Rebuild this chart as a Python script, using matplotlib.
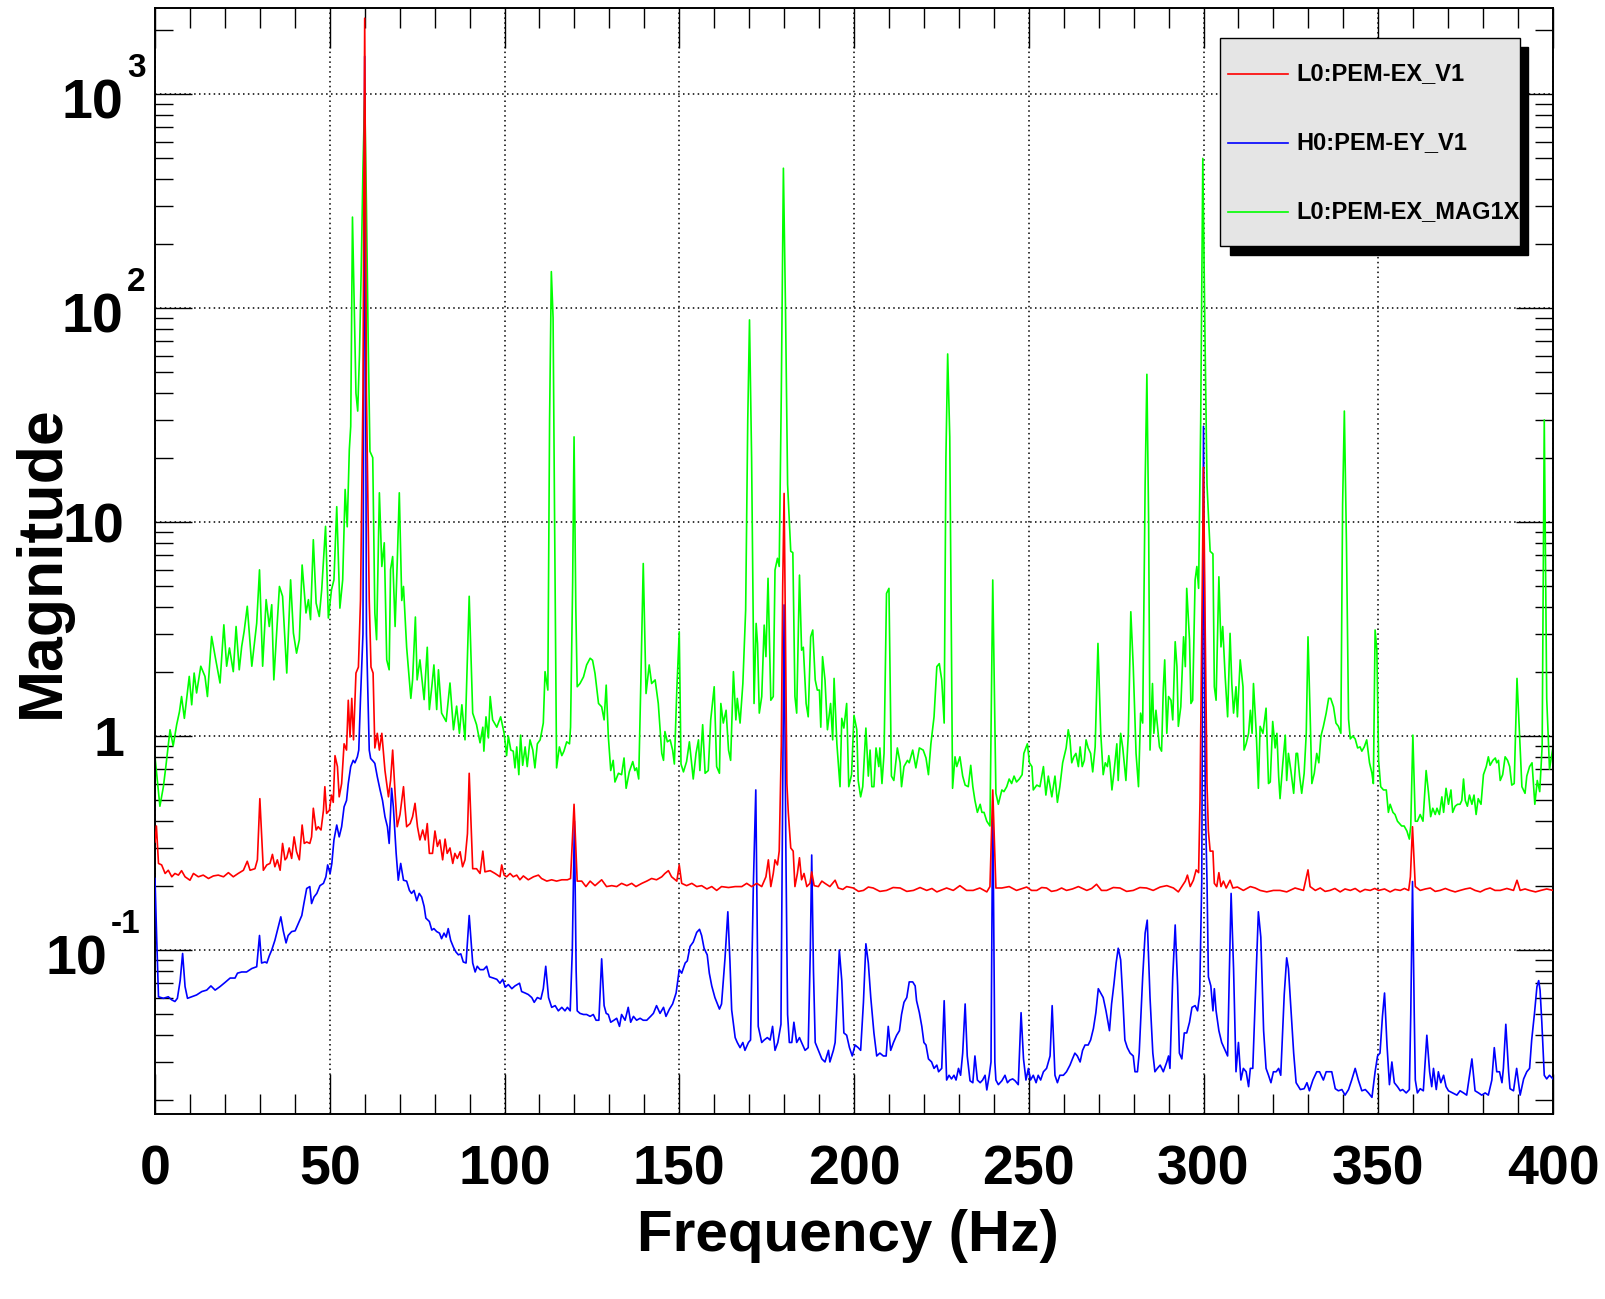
import matplotlib
matplotlib.use("Agg")
import matplotlib.pyplot as plt
from matplotlib.ticker import MultipleLocator, FixedLocator, LogLocator, NullFormatter
from matplotlib.transforms import offset_copy
from matplotlib.patches import Rectangle
from matplotlib.lines import Line2D

plt.rcParams['font.family'] = ['Liberation Sans', 'DejaVu Sans']
plt.rcParams['font.weight'] = 'bold'

# spectra, (frequency [Hz], magnitude)
ex_v1 = [
    (0.0, 0.32), (0.4, 0.38), (1.0, 0.254), (1.9, 0.25), (2.9, 0.228), (3.8, 0.236), (4.8, 0.22),
    (5.7, 0.228), (6.7, 0.224), (7.6, 0.235), (8.6, 0.22), (10.0, 0.212), (11.0, 0.228), (12.4, 0.22),
    (13.8, 0.224), (15.3, 0.216), (16.7, 0.222), (18.1, 0.224), (19.6, 0.22), (21.0, 0.23), (22.4, 0.22),
    (23.8, 0.228), (25.3, 0.236), (26.4, 0.26), (27.2, 0.236), (28.6, 0.24), (29.3, 0.264), (30.0, 0.51),
    (31.0, 0.236), (32.0, 0.25), (32.9, 0.254), (33.6, 0.28), (34.3, 0.245), (35.0, 0.264), (35.8, 0.236),
    (36.5, 0.315), (37.2, 0.264), (37.7, 0.27), (38.4, 0.30), (39.1, 0.268), (39.8, 0.338), (40.5, 0.288),
    (41.3, 0.264), (42.1, 0.384), (42.7, 0.315), (43.4, 0.32), (44.3, 0.315), (44.8, 0.338), (45.3, 0.46),
    (46.1, 0.364), (46.7, 0.377), (47.5, 0.364), (48.2, 0.45), (48.6, 0.58), (49.1, 0.435), (49.9, 0.45),
    (50.5, 0.53), (51.0, 0.49), (51.5, 0.81), (52.2, 0.72), (52.7, 0.52), (53.4, 0.60), (54.1, 0.92),
    (54.8, 0.86), (55.3, 1.47), (55.8, 0.99), (56.3, 1.5), (56.8, 0.96), (57.5, 1.97), (58.2, 2.1),
    (58.8, 4.3), (59.5, 40), (60.0, 2260), (60.5, 40), (61.3, 4.3), (61.8, 2.1), (62.4, 1.97),
    (62.9, 0.88), (63.6, 1.03), (64.2, 0.86), (64.9, 1.03), (65.8, 0.69), (66.8, 0.52), (67.4, 0.62),
    (68.0, 0.86), (68.7, 0.54), (69.3, 0.377), (70.1, 0.43), (71.1, 0.58), (71.5, 0.47), (72.0, 0.377),
    (73.0, 0.39), (73.7, 0.42), (74.4, 0.485), (75.1, 0.377), (75.8, 0.327), (76.6, 0.364), (77.3, 0.327),
    (77.9, 0.39), (78.5, 0.283), (79.4, 0.283), (80.1, 0.36), (80.8, 0.305), (81.5, 0.327), (82.3, 0.264),
    (83.0, 0.33), (83.6, 0.283), (84.4, 0.30), (85.2, 0.254), (85.8, 0.283), (86.5, 0.268), (87.3, 0.288),
    (88.0, 0.245), (88.7, 0.264), (89.4, 0.35), (89.9, 0.67), (90.9, 0.24), (92.0, 0.24), (93.0, 0.228),
    (93.8, 0.29), (94.4, 0.232), (95.9, 0.235), (97.3, 0.228), (98.7, 0.22), (99.2, 0.25), (99.9, 0.224),
    (100.6, 0.22), (101.6, 0.228), (102.5, 0.22), (103.5, 0.224), (104.4, 0.213), (105.4, 0.222),
    (106.8, 0.213), (108.3, 0.22), (109.7, 0.224), (110.6, 0.216), (112.1, 0.21), (113.5, 0.213),
    (114.9, 0.21), (116.4, 0.213), (118.0, 0.213), (118.9, 0.216), (119.9, 0.48), (120.8, 0.21),
    (122.1, 0.21), (123.3, 0.198), (124.5, 0.21), (125.9, 0.20), (127.8, 0.213), (129.2, 0.198),
    (130.7, 0.20), (132.1, 0.198), (133.5, 0.205), (135.0, 0.20), (136.4, 0.205), (137.6, 0.198),
    (139.3, 0.205), (140.7, 0.21), (142.1, 0.216), (143.5, 0.213), (145.0, 0.22), (145.9, 0.228),
    (146.9, 0.235), (147.8, 0.22), (149.3, 0.21), (150.0, 0.25), (150.7, 0.205), (152.1, 0.20),
    (153.6, 0.205), (155.0, 0.198), (156.4, 0.20), (157.9, 0.193), (159.3, 0.198), (160.7, 0.19),
    (162.1, 0.198), (164.1, 0.196), (166.0, 0.198), (167.9, 0.198), (169.3, 0.205), (170.7, 0.198),
    (172.2, 0.205), (173.6, 0.198), (174.8, 0.22), (175.5, 0.264), (176.2, 0.198), (176.9, 0.228),
    (177.4, 0.264), (178.1, 0.25), (178.6, 0.29), (179.2, 0.9), (179.6, 5.0), (180.0, 13.6), (180.4, 3.0),
    (180.8, 0.6), (181.2, 0.44), (181.9, 0.30), (182.6, 0.29), (183.1, 0.198), (183.8, 0.228), (184.4, 0.27),
    (185.0, 0.213), (185.7, 0.228), (186.5, 0.198), (187.4, 0.205), (187.9, 0.232), (188.6, 0.20),
    (189.8, 0.198), (190.8, 0.21), (191.7, 0.205), (193.1, 0.198), (194.6, 0.212), (195.5, 0.195),
    (196.8, 0.192), (197.9, 0.198), (199.8, 0.195), (201.3, 0.188), (202.7, 0.19), (204.1, 0.197),
    (205.5, 0.195), (207.4, 0.188), (209.3, 0.19), (211.2, 0.196), (213.2, 0.195), (215.1, 0.188),
    (217.0, 0.19), (218.9, 0.196), (220.8, 0.19), (222.3, 0.194), (223.7, 0.187), (226.5, 0.195),
    (228.4, 0.19), (230.3, 0.20), (232.2, 0.19), (234.1, 0.19), (236.0, 0.195), (238.0, 0.187),
    (238.9, 0.198), (239.7, 0.56), (240.6, 0.195), (242.3, 0.195), (244.4, 0.198), (246.5, 0.19),
    (249.4, 0.197), (250.8, 0.19), (252.3, 0.19), (253.7, 0.196), (255.1, 0.195), (256.5, 0.188),
    (258.0, 0.19), (259.4, 0.195), (260.8, 0.19), (262.5, 0.193), (264.2, 0.198), (266.6, 0.19),
    (268.0, 0.194), (269.4, 0.203), (270.8, 0.19), (272.3, 0.19), (274.2, 0.196), (276.1, 0.195),
    (278.0, 0.188), (279.9, 0.19), (281.8, 0.196), (283.7, 0.195), (285.6, 0.19), (287.6, 0.197),
    (289.5, 0.20), (291.4, 0.195), (292.8, 0.187), (293.8, 0.198), (294.8, 0.21), (295.4, 0.224),
    (296.2, 0.198), (297.1, 0.212), (297.9, 0.237), (298.6, 0.23), (299.0, 0.5), (299.5, 3.0),
    (300.0, 18), (300.5, 3.0), (301.0, 0.6), (301.4, 0.36), (301.9, 0.29), (302.7, 0.29), (303.1, 0.205),
    (303.8, 0.198), (304.4, 0.23), (305.0, 0.198), (305.7, 0.21), (306.5, 0.195), (307.6, 0.212),
    (308.4, 0.195), (309.7, 0.197), (311.4, 0.19), (313.4, 0.198), (314.8, 0.195), (316.2, 0.19),
    (318.1, 0.187), (320.0, 0.19), (321.9, 0.19), (323.8, 0.187), (326.2, 0.195), (328.6, 0.19),
    (329.9, 0.237), (330.5, 0.198), (332.0, 0.19), (333.4, 0.195), (334.8, 0.188), (336.2, 0.19),
    (337.6, 0.194), (339.1, 0.187), (340.5, 0.193), (342.0, 0.19), (343.4, 0.194), (344.8, 0.187),
    (346.2, 0.192), (347.7, 0.19), (349.0, 0.194), (350.1, 0.19), (351.8, 0.193), (353.4, 0.187),
    (354.8, 0.192), (356.3, 0.19), (357.5, 0.194), (358.7, 0.19), (359.2, 0.22), (359.8, 0.377),
    (360.6, 0.198), (362.0, 0.19), (363.5, 0.193), (364.9, 0.195), (366.3, 0.188), (367.7, 0.19),
    (369.2, 0.194), (370.6, 0.19), (372.0, 0.187), (373.4, 0.19), (374.9, 0.193), (376.3, 0.195),
    (377.7, 0.19), (379.2, 0.187), (380.6, 0.192), (382.0, 0.195), (383.4, 0.19), (384.9, 0.19),
    (386.8, 0.194), (388.7, 0.19), (389.7, 0.212), (390.6, 0.19), (392.0, 0.193), (393.3, 0.19),
    (395.0, 0.187), (396.5, 0.19), (398.2, 0.193), (400.0, 0.19),
]

ey_v1 = [
    (0.0, 0.216), (0.5, 0.111), (1.0, 0.0605), (2.4, 0.0595), (3.8, 0.0605), (4.8, 0.0585), (5.7, 0.0575),
    (6.4, 0.0595), (7.2, 0.072), (7.9, 0.0964), (8.6, 0.0675), (9.3, 0.0595), (10.5, 0.0605), (11.9, 0.0617),
    (13.4, 0.064), (14.8, 0.065), (16.0, 0.068), (17.2, 0.065), (18.6, 0.0675), (20.0, 0.0705), (21.5, 0.074),
    (22.9, 0.074), (23.6, 0.078), (24.8, 0.079), (26.2, 0.079), (27.7, 0.082), (29.1, 0.0836), (29.9, 0.117),
    (30.5, 0.087), (31.5, 0.088), (32.0, 0.087), (32.7, 0.094), (33.4, 0.1), (34.3, 0.111), (35.0, 0.123),
    (36.0, 0.143), (36.7, 0.123), (37.5, 0.108), (38.1, 0.117), (39.1, 0.122), (40.1, 0.123), (41.0, 0.133),
    (42.0, 0.145), (42.6, 0.165), (43.4, 0.194), (44.3, 0.198), (44.8, 0.165), (45.5, 0.177), (46.3, 0.184),
    (47.2, 0.20), (48.2, 0.205), (48.9, 0.22), (49.4, 0.25), (50.1, 0.228), (50.6, 0.254), (51.2, 0.327),
    (52.0, 0.384), (52.7, 0.338), (53.4, 0.377), (54.1, 0.467), (54.8, 0.50), (55.3, 0.60), (56.0, 0.72),
    (56.7, 0.77), (57.2, 0.75), (57.9, 0.80), (58.3, 0.86), (58.8, 1.5), (59.5, 3.0), (60.0, 1500),
    (60.5, 3.0), (61.3, 0.86), (61.7, 0.786), (62.5, 0.76), (62.9, 0.745), (63.6, 0.646), (64.4, 0.56),
    (65.1, 0.50), (65.8, 0.42), (66.5, 0.377), (67.0, 0.315), (67.7, 0.57), (68.2, 0.467), (69.0, 0.283),
    (69.6, 0.212), (70.3, 0.254), (71.1, 0.212), (72.0, 0.21), (72.8, 0.19), (73.4, 0.184), (74.1, 0.19),
    (74.9, 0.17), (75.6, 0.184), (76.3, 0.177), (77.0, 0.16), (77.5, 0.141), (78.5, 0.136), (79.2, 0.124),
    (79.8, 0.126), (80.6, 0.122), (81.4, 0.12), (82.0, 0.113), (82.7, 0.12), (83.3, 0.115), (83.9, 0.126),
    (84.6, 0.111), (85.4, 0.103), (86.1, 0.098), (86.8, 0.095), (87.5, 0.096), (88.2, 0.088), (89.0, 0.087),
    (89.9, 0.145), (90.9, 0.087), (91.6, 0.079), (92.2, 0.084), (93.0, 0.081), (94.0, 0.081), (94.9, 0.084),
    (95.7, 0.075), (96.8, 0.074), (97.8, 0.073), (98.7, 0.07), (99.5, 0.073), (100.2, 0.067), (101.1, 0.069),
    (102.1, 0.066), (103.0, 0.068), (104.3, 0.07), (104.9, 0.064), (105.9, 0.063), (106.8, 0.062),
    (107.8, 0.06), (108.5, 0.057), (109.4, 0.06), (110.4, 0.059), (111.1, 0.066), (111.8, 0.084),
    (112.6, 0.06), (113.5, 0.054), (114.5, 0.055), (115.4, 0.052), (116.4, 0.054), (117.3, 0.052),
    (118.0, 0.054), (118.8, 0.052), (119.4, 0.1), (120.0, 0.40), (120.5, 0.08), (120.8, 0.052),
    (121.6, 0.0506), (122.6, 0.050), (123.5, 0.050), (124.5, 0.049), (125.4, 0.050), (126.2, 0.047),
    (127.0, 0.047), (127.8, 0.091), (128.5, 0.055), (129.1, 0.0506), (129.7, 0.05), (130.4, 0.046),
    (131.3, 0.047), (132.1, 0.048), (132.9, 0.044), (133.5, 0.05), (134.5, 0.047), (135.4, 0.054),
    (136.1, 0.046), (136.9, 0.049), (137.8, 0.047), (138.8, 0.048), (139.7, 0.047), (140.7, 0.047),
    (141.8, 0.049), (142.6, 0.0506), (143.5, 0.055), (144.5, 0.0506), (145.5, 0.054), (146.2, 0.049),
    (147.2, 0.053), (148.1, 0.056), (149.1, 0.063), (150.0, 0.081), (150.7, 0.078), (151.7, 0.087),
    (152.3, 0.089), (153.1, 0.104), (154.0, 0.109), (155.0, 0.121), (155.8, 0.125), (156.4, 0.117),
    (157.1, 0.102), (158.0, 0.095), (158.6, 0.078), (159.3, 0.068), (160.2, 0.06), (161.5, 0.053),
    (162.1, 0.056), (163.1, 0.092), (163.9, 0.151), (164.5, 0.089), (165.0, 0.0525), (166.0, 0.039),
    (166.6, 0.037), (167.4, 0.035), (168.2, 0.037), (168.8, 0.034), (169.8, 0.037), (170.4, 0.038),
    (171.2, 0.2), (171.9, 0.56), (172.6, 0.044), (173.6, 0.037), (174.3, 0.038), (175.2, 0.039),
    (176.0, 0.038), (176.7, 0.044), (177.4, 0.034), (178.2, 0.037), (179.1, 0.045), (179.6, 0.6),
    (180.0, 4.1), (180.5, 0.3), (181.0, 0.05), (181.5, 0.037), (182.2, 0.037), (182.8, 0.046),
    (183.6, 0.037), (184.4, 0.039), (185.0, 0.037), (186.0, 0.034), (186.9, 0.035), (187.5, 0.1),
    (187.9, 0.278), (188.4, 0.08), (188.9, 0.037), (189.8, 0.034), (190.8, 0.031), (191.7, 0.030),
    (192.7, 0.034), (193.1, 0.030), (194.1, 0.034), (194.6, 0.037), (195.0, 0.05), (195.8, 0.1),
    (196.5, 0.072), (197.1, 0.041), (197.9, 0.040), (198.7, 0.035), (199.5, 0.032), (200.3, 0.036),
    (201.2, 0.035), (201.9, 0.034), (202.7, 0.057), (203.4, 0.107), (204.1, 0.087), (204.8, 0.06),
    (205.7, 0.041), (206.5, 0.032), (207.4, 0.033), (208.4, 0.032), (209.2, 0.032), (209.8, 0.044),
    (210.5, 0.034), (211.3, 0.037), (212.2, 0.040), (213.0, 0.042), (213.6, 0.050), (214.3, 0.057),
    (215.1, 0.060), (215.8, 0.071), (216.8, 0.071), (217.5, 0.068), (217.9, 0.058), (218.7, 0.051),
    (219.4, 0.044), (220.0, 0.037), (220.6, 0.036), (221.3, 0.031), (222.2, 0.030), (222.9, 0.028),
    (223.7, 0.029), (224.2, 0.027), (225.1, 0.028), (225.8, 0.058), (226.5, 0.0247), (227.2, 0.026),
    (227.9, 0.025), (228.6, 0.026), (229.2, 0.0247), (229.9, 0.028), (230.5, 0.026), (231.1, 0.033),
    (231.8, 0.056), (232.4, 0.032), (233.2, 0.0245), (234.0, 0.024), (234.6, 0.032), (235.3, 0.0247),
    (236.1, 0.024), (236.8, 0.0247), (237.5, 0.026), (238.0, 0.0222), (238.7, 0.026), (239.2, 0.03),
    (239.7, 0.5), (240.3, 0.03), (240.6, 0.0247), (241.3, 0.0235), (242.3, 0.0245), (243.2, 0.026),
    (243.9, 0.024), (244.6, 0.0247), (245.4, 0.025), (246.1, 0.0245), (247.0, 0.0235), (247.8, 0.051),
    (248.5, 0.031), (249.2, 0.0247), (249.9, 0.028), (250.5, 0.0247), (251.3, 0.026), (252.1, 0.024),
    (252.7, 0.026), (253.4, 0.0247), (254.2, 0.027), (255.1, 0.028), (256.1, 0.032), (256.7, 0.055),
    (257.5, 0.026), (258.2, 0.024), (258.9, 0.026), (259.9, 0.026), (260.8, 0.027), (261.8, 0.029),
    (262.5, 0.031), (263.2, 0.033), (263.9, 0.032), (264.7, 0.030), (265.4, 0.034), (266.1, 0.036),
    (267.0, 0.036), (267.7, 0.038), (268.5, 0.043), (269.2, 0.051), (269.9, 0.066), (270.6, 0.063),
    (271.3, 0.06), (272.1, 0.052), (273.1, 0.042), (273.7, 0.056), (274.4, 0.07), (275.0, 0.087),
    (275.6, 0.102), (276.3, 0.09), (276.9, 0.06), (277.5, 0.038), (278.2, 0.035), (279.0, 0.033),
    (279.9, 0.032), (280.4, 0.027), (281.1, 0.027), (281.6, 0.033), (282.6, 0.075), (283.3, 0.12),
    (283.9, 0.138), (284.7, 0.06), (285.5, 0.033), (286.1, 0.027), (286.8, 0.028), (287.6, 0.029),
    (288.5, 0.027), (289.5, 0.030), (290.0, 0.032), (290.4, 0.028), (291.2, 0.075), (291.9, 0.131),
    (292.6, 0.068), (293.1, 0.033), (293.8, 0.031), (294.5, 0.041), (295.2, 0.041), (296.0, 0.046),
    (296.7, 0.054), (297.6, 0.055), (298.3, 0.052), (298.9, 0.062), (299.5, 0.21), (300.0, 28),
    (300.5, 0.5), (301.0, 0.21), (301.4, 0.075), (302.1, 0.068), (302.7, 0.052), (303.1, 0.066),
    (303.6, 0.052), (304.4, 0.042), (305.2, 0.037), (306.2, 0.034), (306.9, 0.032), (307.4, 0.079),
    (307.9, 0.184), (308.6, 0.082), (309.3, 0.027), (310.0, 0.037), (310.7, 0.0247), (311.4, 0.028),
    (312.2, 0.027), (312.9, 0.023), (313.4, 0.028), (314.1, 0.028), (315.1, 0.082), (315.7, 0.151),
    (316.4, 0.115), (317.2, 0.042), (317.9, 0.028), (318.6, 0.026), (319.3, 0.024), (320.0, 0.027),
    (320.8, 0.027), (321.5, 0.028), (322.1, 0.026), (323.1, 0.062), (323.8, 0.092), (324.3, 0.082),
    (325.0, 0.054), (325.8, 0.033), (326.5, 0.024), (327.7, 0.0223), (328.8, 0.0225), (329.6, 0.024),
    (330.3, 0.022), (331.3, 0.0247), (332.4, 0.027), (333.2, 0.027), (334.3, 0.0247), (335.1, 0.027),
    (335.8, 0.027), (336.7, 0.027), (337.7, 0.0225), (338.6, 0.022), (339.6, 0.0223), (340.5, 0.021),
    (341.5, 0.0223), (342.4, 0.0247), (343.4, 0.028), (344.3, 0.0247), (345.3, 0.022), (346.3, 0.0223),
    (347.2, 0.0215), (348.2, 0.0205), (349.1, 0.027), (349.8, 0.032), (350.5, 0.033), (351.2, 0.049),
    (351.8, 0.063), (352.5, 0.036), (353.2, 0.0235), (353.9, 0.030), (354.6, 0.024), (355.5, 0.023),
    (356.3, 0.022), (357.0, 0.0223), (358.0, 0.0215), (358.9, 0.0223), (359.3, 0.05), (359.8, 0.209),
    (360.3, 0.05), (360.6, 0.0247), (361.2, 0.0215), (362.0, 0.0225), (362.9, 0.022), (363.9, 0.04),
    (364.7, 0.027), (365.3, 0.023), (365.8, 0.028), (366.6, 0.0223), (367.2, 0.027), (367.9, 0.024),
    (368.7, 0.026), (369.4, 0.023), (370.1, 0.022), (371.3, 0.0215), (372.5, 0.021), (373.4, 0.022),
    (374.4, 0.0215), (375.3, 0.021), (376.8, 0.031), (377.7, 0.022), (378.7, 0.0215), (379.6, 0.021),
    (380.6, 0.0215), (381.5, 0.021), (382.5, 0.0247), (383.2, 0.035), (383.9, 0.027), (384.7, 0.027),
    (385.4, 0.024), (385.8, 0.028), (386.5, 0.045), (387.3, 0.027), (387.7, 0.0225), (388.7, 0.022),
    (389.6, 0.028), (390.6, 0.021), (391.6, 0.025), (392.5, 0.027), (393.3, 0.028), (393.9, 0.038),
    (394.7, 0.0506), (395.4, 0.0674), (395.9, 0.072), (396.3, 0.065), (396.8, 0.046), (397.5, 0.026),
    (398.2, 0.025), (399.0, 0.026), (400.0, 0.025),
]

ex_mag1x = [
    (0.0, 0.80), (1.4, 0.47), (2.4, 0.58), (3.1, 0.72), (4.3, 1.07), (5.2, 0.90), (6.2, 1.13), (7.0, 1.30),
    (7.6, 1.53), (8.4, 1.21), (9.8, 1.90), (10.5, 1.40), (11.2, 1.97), (11.9, 1.59), (13.1, 2.12),
    (14.3, 1.90), (15.0, 1.53), (16.2, 2.92), (17.2, 2.36), (18.6, 1.77), (19.7, 3.31), (20.5, 2.12),
    (21.3, 2.58), (22.4, 2.0), (23.2, 3.25), (24.1, 2.04), (24.8, 2.62), (25.5, 3.08), (26.4, 4.04),
    (27.7, 2.12), (29.1, 3.37), (29.9, 5.98), (30.8, 2.12), (31.8, 4.34), (32.7, 3.25), (33.4, 4.11),
    (34.0, 1.83), (35.6, 5.0), (36.5, 4.5), (37.7, 1.97), (38.8, 5.37), (39.6, 3.03), (40.5, 2.44),
    (41.3, 2.82), (42.1, 6.3), (43.2, 3.76), (43.9, 4.34), (44.5, 3.50), (45.3, 8.27), (46.1, 4.18),
    (47.0, 3.62), (47.7, 4.83), (48.8, 9.55), (49.6, 3.56), (50.5, 4.83), (51.2, 5.37), (52.0, 11.8),
    (52.9, 3.96), (53.7, 5.37), (54.4, 14.2), (55.0, 9.5), (55.6, 21.8), (56.0, 28), (56.5, 266),
    (57.0, 100), (57.5, 40), (58.0, 33), (58.5, 60), (59.0, 150), (59.5, 450), (60.0, 1000), (60.5, 300),
    (61.0, 70), (61.5, 21.4), (62.3, 20), (62.9, 3.76), (63.4, 2.82), (64.2, 13.7), (64.9, 6.2),
    (65.6, 8.0), (66.3, 2.27), (67.0, 2.04), (67.4, 6.0), (68.0, 6.9), (68.7, 3.25), (69.3, 6.4),
    (69.9, 13.7), (70.6, 4.3), (71.1, 5.0), (72.0, 2.6), (73.2, 1.5), (73.7, 1.83), (74.5, 3.6),
    (75.0, 1.83), (75.8, 2.27), (77.0, 1.48), (77.9, 2.6), (78.5, 1.33), (79.2, 1.7), (79.8, 2.15),
    (80.6, 1.33), (81.1, 2.04), (82.0, 1.28), (83.3, 1.17), (84.4, 1.77), (85.4, 1.07), (86.3, 1.38),
    (87.1, 1.03), (87.8, 1.40), (88.7, 0.96), (89.9, 4.5), (90.9, 1.28), (92.0, 1.13), (93.0, 0.93),
    (93.8, 1.1), (94.1, 0.85), (94.7, 1.23), (95.4, 0.98), (95.9, 1.53), (96.6, 1.19), (97.8, 1.10),
    (98.9, 1.23), (99.9, 1.03), (100.6, 0.81), (101.1, 1.0), (101.8, 0.86), (102.5, 0.85), (103.0, 0.71),
    (103.5, 0.89), (104.1, 0.66), (104.6, 1.01), (105.2, 0.73), (105.9, 0.89), (106.5, 0.72), (107.3, 0.96),
    (108.1, 0.86), (108.7, 0.71), (109.4, 0.92), (110.2, 0.96), (111.1, 1.15), (111.6, 2.0), (112.4, 1.64),
    (112.9, 30), (113.4, 148), (113.9, 90), (114.3, 12), (114.9, 0.71), (115.7, 0.89), (116.4, 0.81),
    (117.0, 0.85), (117.8, 0.94), (118.6, 0.92), (118.9, 1.10), (119.5, 5.2), (119.9, 25), (120.4, 4.0),
    (120.8, 1.70), (121.6, 1.76), (122.6, 1.89), (123.5, 2.15), (124.5, 2.31), (125.2, 2.26), (125.9, 1.96),
    (126.9, 1.42), (127.8, 1.37), (128.5, 1.19), (129.1, 1.73), (129.7, 1.0), (130.4, 0.69), (131.1, 0.77),
    (131.6, 0.61), (132.6, 0.67), (133.5, 0.66), (134.2, 0.79), (134.8, 0.57), (135.7, 0.68), (136.7, 0.76),
    (137.3, 0.69), (137.8, 0.71), (138.4, 0.63), (139.0, 1.76), (139.7, 6.4), (140.5, 1.58), (141.4, 2.15),
    (142.1, 1.76), (143.1, 1.83), (144.0, 1.42), (145.0, 0.83), (145.5, 0.77), (145.9, 1.05), (146.6, 0.94),
    (147.4, 0.96), (148.1, 0.86), (148.6, 0.74), (149.3, 1.64), (150.0, 3.07), (150.5, 0.74), (151.2, 0.68),
    (152.1, 0.76), (152.9, 0.94), (154.0, 0.63), (154.8, 0.83), (155.5, 0.96), (155.9, 0.69), (156.7, 1.13),
    (157.4, 0.67), (158.3, 0.69), (159.0, 1.19), (160.0, 1.70), (160.7, 0.72), (161.5, 0.67), (161.9, 1.42),
    (162.6, 1.15), (163.4, 1.32), (164.1, 0.86), (164.7, 0.77), (165.5, 2.0), (166.2, 1.19), (166.6, 1.50),
    (167.4, 1.15), (168.2, 1.76), (169.0, 3.88), (169.6, 30), (170.1, 88), (170.7, 20), (171.4, 1.42),
    (172.0, 3.36), (172.4, 2.7), (172.9, 1.28), (173.6, 1.53), (174.3, 3.3), (174.8, 2.35), (175.4, 5.46),
    (176.2, 1.47), (176.9, 1.53), (177.4, 5.97), (178.1, 6.77), (178.6, 6.2), (179.2, 40), (179.8, 450),
    (180.4, 100), (181.0, 15), (181.9, 7.3), (182.5, 7.2), (183.1, 1.53), (183.6, 1.28), (184.4, 5.65),
    (185.0, 2.52), (185.5, 2.6), (186.3, 1.42), (186.9, 1.23), (187.6, 2.91), (188.2, 3.13), (188.9, 1.83),
    (189.5, 1.64), (190.1, 1.64), (190.5, 1.10), (191.0, 2.35), (191.7, 1.83), (192.4, 1.07), (193.3, 1.42),
    (193.9, 0.96), (194.3, 1.86), (195.1, 0.92), (196.0, 0.58), (196.5, 1.21), (197.1, 1.09), (197.9, 1.42),
    (198.5, 0.58), (199.3, 0.66), (200.0, 1.25), (200.8, 1.07), (201.2, 0.62), (201.9, 0.52), (202.5, 0.58),
    (203.4, 1.09), (204.1, 0.65), (204.6, 0.86), (205.1, 0.58), (205.7, 0.58), (206.3, 0.88), (207.1, 0.72),
    (207.4, 0.88), (208.0, 0.60), (208.6, 0.83), (209.3, 4.64), (210.0, 4.9), (210.7, 0.65), (211.4, 0.62),
    (212.4, 0.88), (213.2, 0.75), (213.6, 0.58), (214.3, 0.72), (215.3, 0.77), (215.8, 0.75), (216.8, 0.86),
    (217.7, 0.71), (218.7, 0.88), (219.8, 0.86), (220.6, 0.79), (221.3, 0.66), (222.0, 0.92), (222.9, 1.23),
    (223.7, 2.11), (224.4, 2.18), (225.1, 1.83), (225.8, 1.15), (226.3, 20), (226.8, 61), (227.4, 25),
    (228.2, 0.57), (228.9, 0.80), (229.4, 0.72), (230.3, 0.80), (231.1, 0.65), (231.8, 0.59), (232.7, 0.58),
    (233.4, 0.73), (234.0, 0.58), (234.6, 0.50), (235.3, 0.44), (236.1, 0.48), (236.6, 0.44), (237.2, 0.44),
    (238.0, 0.40), (238.9, 0.38), (239.7, 5.36), (240.6, 0.54), (241.3, 0.48), (242.3, 0.56), (242.9, 0.55),
    (243.7, 0.58), (244.4, 0.63), (245.1, 0.60), (245.8, 0.65), (246.5, 0.61), (247.3, 0.63), (248.1, 0.66),
    (248.6, 0.83), (249.6, 0.92), (250.2, 0.75), (250.9, 0.72), (251.3, 0.56), (252.3, 0.59), (253.2, 0.58),
    (254.2, 0.72), (254.9, 0.53), (255.6, 0.65), (256.6, 0.52), (257.5, 0.65), (258.2, 0.49), (258.9, 0.58),
    (259.7, 0.75), (260.7, 0.88), (261.3, 1.07), (261.8, 0.96), (262.3, 0.75), (262.9, 0.80), (263.5, 0.83),
    (264.2, 0.72), (264.7, 0.89), (265.3, 0.72), (265.9, 0.77), (266.4, 0.96), (267.0, 0.88), (267.7, 0.83),
    (268.3, 0.68), (269.0, 0.89), (269.8, 2.71), (270.6, 1.03), (271.3, 0.66), (271.9, 0.75), (272.5, 0.72),
    (272.9, 0.81), (273.2, 0.75), (273.8, 0.56), (274.4, 0.68), (275.2, 0.92), (275.6, 0.62), (276.3, 1.03),
    (276.9, 0.88), (277.8, 0.62), (278.5, 1.03), (279.2, 3.81), (279.9, 2.11), (280.7, 0.83), (281.4, 0.58),
    (282.0, 1.28), (282.6, 1.15), (283.3, 15), (283.8, 49), (284.3, 10), (284.7, 0.86), (285.4, 1.76),
    (285.8, 1.03), (286.4, 1.32), (287.4, 0.89), (288.0, 0.85), (288.5, 1.67), (288.9, 2.27), (289.5, 1.03),
    (290.0, 1.53), (290.7, 1.47), (291.2, 1.19), (291.9, 2.76), (292.4, 2.11), (292.8, 1.11), (293.5, 1.37),
    (294.3, 2.91), (294.8, 2.11), (295.2, 4.9), (296.0, 2.81), (296.4, 1.42), (296.9, 1.47), (297.6, 5.36),
    (298.1, 6.2), (298.6, 4.9), (299.2, 30), (299.8, 500), (300.4, 80), (301.0, 15), (301.9, 7.3),
    (302.7, 7.1), (303.1, 1.70), (303.6, 1.47), (304.4, 5.55), (305.0, 2.61), (305.5, 3.25), (306.2, 1.89),
    (306.9, 1.23), (307.6, 3.02), (308.1, 1.76), (308.6, 1.28), (309.3, 1.70), (309.7, 1.23), (310.5, 2.27),
    (311.3, 1.70), (311.6, 0.86), (312.2, 0.92), (312.9, 1.03), (313.4, 1.32), (313.9, 1.03), (314.3, 1.76),
    (315.1, 1.03), (315.7, 0.57), (316.2, 1.11), (317.0, 1.03), (317.9, 1.35), (318.6, 0.60), (319.1, 0.61),
    (319.8, 1.17), (320.5, 0.88), (321.0, 1.03), (321.5, 0.65), (321.9, 0.51), (322.7, 0.75), (323.4, 1.01),
    (323.8, 0.62), (324.3, 0.83), (325.0, 0.69), (325.8, 0.54), (326.5, 0.83), (326.9, 0.83), (327.5, 0.65),
    (328.1, 0.54), (328.8, 0.67), (329.4, 1.03), (329.9, 2.91), (330.5, 1.28), (331.0, 0.60), (331.7, 0.67),
    (332.4, 0.83), (333.0, 0.75), (333.6, 1.0), (334.3, 1.11), (335.1, 1.28), (335.8, 1.50), (336.4, 1.50),
    (337.2, 1.37), (337.9, 1.15), (338.6, 1.11), (339.3, 1.03), (339.8, 12), (340.3, 33), (340.9, 8),
    (341.5, 1.2), (342.0, 0.97), (342.7, 1.0), (343.4, 0.97), (344.1, 0.88), (344.8, 0.89), (345.3, 0.85),
    (346.0, 0.89), (346.7, 0.96), (347.5, 0.75), (348.2, 0.67), (348.6, 0.60), (349.1, 3.13), (349.6, 2.52),
    (350.1, 0.77), (350.7, 0.58), (351.5, 0.56), (352.3, 0.56), (352.9, 0.44), (353.4, 0.48), (354.2, 0.44),
    (354.8, 0.43), (355.5, 0.40), (356.1, 0.39), (356.7, 0.38), (357.4, 0.38), (358.2, 0.36), (358.9, 0.33),
    (359.3, 0.38), (359.9, 1.01), (360.6, 0.40), (361.2, 0.40), (362.0, 0.43), (362.8, 0.40), (363.7, 0.69),
    (364.4, 0.54), (365.0, 0.42), (365.6, 0.46), (366.3, 0.43), (366.8, 0.46), (367.5, 0.43), (368.2, 0.52),
    (368.7, 0.44), (369.4, 0.57), (370.1, 0.48), (370.8, 0.56), (371.3, 0.44), (372.0, 0.47), (372.7, 0.48),
    (373.4, 0.48), (373.9, 0.50), (374.4, 0.63), (374.9, 0.50), (375.5, 0.47), (376.1, 0.53), (376.8, 0.48),
    (377.4, 0.53), (378.0, 0.43), (378.6, 0.51), (379.4, 0.48), (380.1, 0.66), (380.9, 0.72), (381.5, 0.80),
    (382.0, 0.73), (382.8, 0.77), (383.5, 0.79), (383.9, 0.75), (384.4, 0.77), (384.9, 0.62), (385.6, 0.66),
    (386.3, 0.80), (387.0, 0.77), (387.6, 0.72), (388.2, 0.59), (388.9, 0.60), (389.7, 1.86), (390.4, 1.03),
    (391.1, 0.58), (392.0, 0.54), (392.5, 0.65), (393.3, 0.72), (394.0, 0.75), (394.8, 0.48), (395.5, 0.62),
    (396.2, 0.55), (396.9, 0.9), (397.5, 30), (398.2, 1.5), (399.0, 0.7), (400.0, 0.89),
]

labels = ["L0:PEM-EX_V1", "H0:PEM-EY_V1", "L0:PEM-EX_MAG1X"]
colors = ["#ff0000", "#0000ff", "#00ff00"]
spectra = [ex_v1, ey_v1, ex_mag1x]
zorders = [4, 3, 2]

x_ticks = [0, 50, 100, 150, 200, 250, 300, 350, 400]
y_decades = [0.1, 1, 10, 100, 1000]
y_exponents = ["-1", "0", "1", "2", "3"]

W, H = 1606, 1299
fig = plt.figure(figsize=(W / 100, H / 100), dpi=100)
ax = fig.add_axes([155 / W, 1 - 1114 / H, 1398 / W, 1106 / H])

for spec, col, z in zip(spectra, colors, zorders):
    f = [p[0] for p in spec]
    m = [p[1] for p in spec]
    ax.plot(f, m, color=col, lw=1.2, zorder=z)

ax.set_yscale("log")
ax.set_xlim(0, 400)
ax.set_ylim(10 ** -1.766, 10 ** 3.402)

ax.xaxis.set_major_locator(FixedLocator(x_ticks))
ax.xaxis.set_minor_locator(MultipleLocator(10))
ax.yaxis.set_major_locator(FixedLocator(y_decades))
ax.yaxis.set_minor_locator(LogLocator(base=10, subs=(2, 3, 4, 5, 6, 7, 8, 9), numticks=30))
ax.yaxis.set_minor_formatter(NullFormatter())

ax.tick_params(which="both", direction="in", top=True, right=True, width=1.0, color="black")
ax.tick_params(axis="x", which="major", length=28.8, labelsize=40, pad=22)
ax.tick_params(axis="x", which="minor", length=14.4)
ax.tick_params(axis="y", which="major", length=26.6, labelleft=False)
ax.tick_params(axis="y", which="minor", length=13)
for s in ax.spines.values():
    s.set_linewidth(1.4)

ax.grid(which="major", color="black", linestyle=(0, (1, 2.2)), linewidth=1.1)
ax.set_axisbelow(True)

# ROOT-style decade labels
ytrans = ax.get_yaxis_transform()
for val, e in zip(y_decades, y_exponents):
    if e in ("0", "1"):
        base = "1" if e == "0" else "10"
        t = offset_copy(ytrans, fig=fig, x=-31, y=-20, units="dots")
        ax.text(0, val, base, transform=t, ha="right", va="baseline", fontsize=40)
    else:
        dx = -32 - 16 * (len(e) - 1)
        t = offset_copy(ytrans, fig=fig, x=dx, y=-24, units="dots")
        ax.text(0, val, "10", transform=t, ha="right", va="baseline", fontsize=40)
        t2 = offset_copy(ytrans, fig=fig, x=dx + 4, y=17, units="dots")
        ax.text(0, val, e, transform=t2, ha="left", va="baseline", fontsize=24)

fig.text(13 / W, 1 - 562 / H, "Magnitude", rotation=90, ha="left", va="center", fontsize=45)
fig.text(848 / W, 1 - 1209 / H, "Frequency (Hz)", ha="center", va="top", fontsize=42)

# legend box with ROOT shadow
shadow = Rectangle((1230 / W, 1 - 255 / H), 298 / W, 208 / H, transform=fig.transFigure,
                   facecolor="black", edgecolor="black", zorder=10)
box = Rectangle((1220 / W, 1 - 246 / H), 300 / W, 208 / H, transform=fig.transFigure,
                facecolor="#e5e5e5", edgecolor="black", lw=1.0, zorder=11)
fig.add_artist(shadow)
fig.add_artist(box)
for row_y, lab, col in zip([73.5, 143, 212], labels, colors):
    fig.add_artist(Line2D([1228 / W, 1288 / W], [1 - row_y / H] * 2, transform=fig.transFigure,
                          color=col, lw=1.2, zorder=12))
    txt = fig.text(1296 / W, 1 - row_y / H, lab, ha="left", va="center", fontsize=17, zorder=12)
    txt.set_clip_path(box)

fig.savefig("out.png", dpi=100)
